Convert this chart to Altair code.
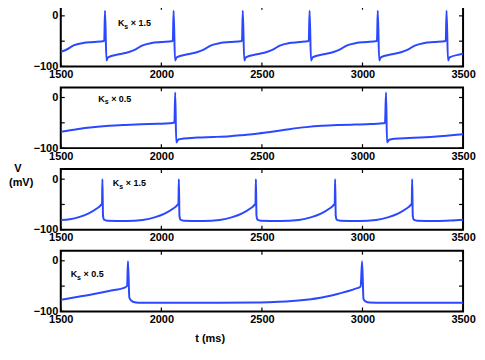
import altair as alt
import pandas as pd

# ---------------- data ----------------
X_TICKS = [1500, 2000, 2500, 3000, 3500]
Y_TICKS = [0, -50, -100]

# panel 1 : Ks x 1.5
T1 = [1500, 1532, 1564, 1612, 1661, 1716, 1720, 1727, 1735, 1790, 1839, 1872, 1904, 1952, 2001, 2057,
      2061, 2068, 2076, 2131, 2180, 2213, 2245, 2293, 2342, 2401,
      2405, 2412, 2420, 2475, 2524, 2557, 2589, 2637, 2686, 2733,
      2737, 2744, 2752, 2807, 2856, 2889, 2921, 2969, 3018, 3072,
      3076, 3083, 3091, 3146, 3195, 3228, 3260, 3308, 3357, 3414,
      3418, 3425, 3433, 3488, 3500]
V1 = [-71, -66, -58.5, -53.7, -51.8, -49.5, 10, -88, -82, -76, -71.3, -66.2, -58.7, -53.7, -51.8, -49.5,
      10, -88, -82, -76, -71.3, -66.2, -58.7, -53.7, -51.8, -49.5,
      10, -88, -82, -76, -71.3, -66.2, -58.7, -53.7, -51.8, -49.5,
      10, -88, -82, -76, -71.3, -66.2, -58.7, -53.7, -51.8, -49.5,
      10, -88, -82, -76, -71.3, -66.2, -58.7, -53.7, -51.8, -49.5,
      10, -88, -82, -76, -75]

# panel 2 : Ks x 0.5
T2 = [1500, 1580, 1658, 1740, 1821, 1900, 1984, 2040, 2065, 2069, 2074, 2085, 2110, 2180, 2260, 2341,
      2410, 2473, 2540, 2636, 2720, 2799, 2880, 2962, 3040, 3112, 3117, 3122, 3133, 3160, 3230, 3288,
      3400, 3500]
V2 = [-67.5, -62.5, -58.7, -56, -54.3, -53, -52, -51, -49.5, 10, -88.7, -83, -81, -79, -78, -76.5,
      -74, -71.5, -68, -62.5, -58.5, -56, -54.5, -53.5, -52.5, -50.5, 10, -88.7, -83.5, -81.5, -80, -79,
      -76, -72.5]

# panel 3 : Ks x 1.5
T3 = [1500, 1545, 1590, 1639, 1679, 1699, 1705, 1707,
      1710, 1715, 1732, 1827, 1907, 1970, 2019, 2059, 2079, 2085, 2087,
      2090, 2095, 2112, 2207, 2290, 2353, 2402, 2442, 2462, 2468, 2470,
      2473, 2478, 2495, 2590, 2684, 2747, 2796, 2836, 2856, 2862, 2864,
      2867, 2872, 2889, 2984, 3067, 3130, 3179, 3219, 3239, 3245, 3247,
      3250, 3255, 3272, 3367, 3440, 3500]
V3 = [-80.5, -79, -75, -67.5, -58, -51.5, -48, 0,
      -72, -80, -82, -82.5, -80.5, -75, -67.5, -58, -51.5, -48, 0,
      -72, -80, -82, -82.5, -80.5, -75, -67.5, -58, -51.5, -48, 0,
      -72, -80, -82, -82.5, -80.5, -75, -67.5, -58, -51.5, -48, 0,
      -72, -80, -82, -82.5, -80.5, -75, -67.5, -58, -51.5, -48, 0,
      -72, -80, -82, -82.5, -81.5, -80]

# panel 4 : Ks x 0.5
T4 = [1500, 1580, 1658, 1740, 1821, 1830, 1834, 1841, 1852, 1862, 1886, 2000, 2180, 2473, 2560, 2636,
      2720, 2799, 2880, 2962, 2991, 2998, 3005, 3015, 3035, 3100, 3500]
V4 = [-77, -71.5, -66, -59.5, -52.5, -49, -1, -73, -79, -81.5, -83, -83, -83, -82.5, -81.5, -80,
      -77, -72.5, -65, -55.5, -50.6, -1, -75, -80, -82.5, -83, -83]

PANELS = [(T1, V1), (T2, V2), (T3, V3), (T4, V4)]
FACTORS = ["1.5", "0.5", "1.5", "0.5"]
LABEL_POS = [(1784, -15), (1686, -2.5), (1759, -8), (1549, -27)]  # (t, V) of the "K" glyph

# ---------------- style ----------------
W, H = 404, 61
BLUE = "#2b48ff"
FONT = "Liberation Sans"

xenc = alt.X("t:Q", scale=alt.Scale(domain=[1500, 3500], nice=False, zero=False),
             axis=alt.Axis(values=X_TICKS, labelPadding=2, title=None, format="d"))
yenc = alt.Y("V:Q", scale=alt.Scale(domain=[-100, 20], nice=False, zero=False),
             axis=alt.Axis(values=Y_TICKS, labelPadding=3, title=None))

xt = pd.DataFrame({"t": X_TICKS})
yt = pd.DataFrame({"V": Y_TICKS})

panels = []
for i, ((T, V), fac, (lt, lv)) in enumerate(zip(PANELS, FACTORS, LABEL_POS)):
    df = pd.DataFrame({"t": T, "V": V})
    line = alt.Chart(df).mark_line(color=BLUE, strokeWidth=2, interpolate="monotone", clip=True).encode(
        x=xenc, y=yenc)
    tb = alt.Chart(xt).mark_rule(color="black", strokeWidth=1.2).encode(
        x=xenc, y=alt.value(H), y2=alt.value(H - 4))
    tt = alt.Chart(xt).mark_rule(color="black", strokeWidth=1.2).encode(
        x=xenc, y=alt.value(0), y2=alt.value(4))
    tl = alt.Chart(yt).mark_rule(color="black", strokeWidth=1.2).encode(
        y=yenc, x=alt.value(0), x2=alt.value(4))
    tr = alt.Chart(yt).mark_rule(color="black", strokeWidth=1.2).encode(
        y=yenc, x=alt.value(W), x2=alt.value(W - 4))
    k = alt.Chart().mark_text(text="K", font=FONT, fontWeight="bold", fontSize=9, align="left",
                              baseline="middle", color="black").encode(x=alt.datum(lt), y=alt.datum(lv))
    s = alt.Chart().mark_text(text="s", font=FONT, fontWeight="bold", fontSize=7, align="left",
                              baseline="middle", color="black", dx=6.5, dy=3.5).encode(
        x=alt.datum(lt), y=alt.datum(lv))
    f = alt.Chart().mark_text(text="\u00d7 " + fac, font=FONT, fontWeight="bold", fontSize=9, align="left",
                              baseline="middle", color="black", dx=13).encode(
        x=alt.datum(lt), y=alt.datum(lv))
    layers = [line, tb, tt, tl, tr, k, s, f]
    if i == 2:
        layers.append(alt.Chart().mark_text(text="V", font=FONT, fontWeight="bold", fontSize=11,
                                            align="center", baseline="middle", color="black").encode(
            x=alt.value(-43), y=alt.value(0)))
        layers.append(alt.Chart().mark_text(text="(mV)", font=FONT, fontWeight="bold", fontSize=11,
                                            align="left", baseline="middle", color="black").encode(
            x=alt.value(-52), y=alt.value(14)))
    if i == 3:
        layers.append(alt.Chart().mark_text(text="t (ms)", font=FONT, fontWeight="bold", fontSize=11,
                                            align="center", baseline="middle", color="black").encode(
            x=alt.value(150), y=alt.value(H + 28)))
    panels.append(alt.layer(*layers).properties(width=W, height=H))

chart = alt.vconcat(*panels, spacing=21, bounds="flush").properties(
    padding={"left": 0, "top": -5, "right": 0, "bottom": 0}, autosize=alt.AutoSizeParams(type="pad")
).configure_view(stroke="black", strokeWidth=2).configure_axis(
    labelFont=FONT, labelFontWeight="bold", labelFontSize=11, labelColor="black",
    ticks=False, domain=False, grid=False, labelFlush=False, labelOverlap=False
)

chart.save("out.html", embed_options={"renderer": "svg", "actions": False})
